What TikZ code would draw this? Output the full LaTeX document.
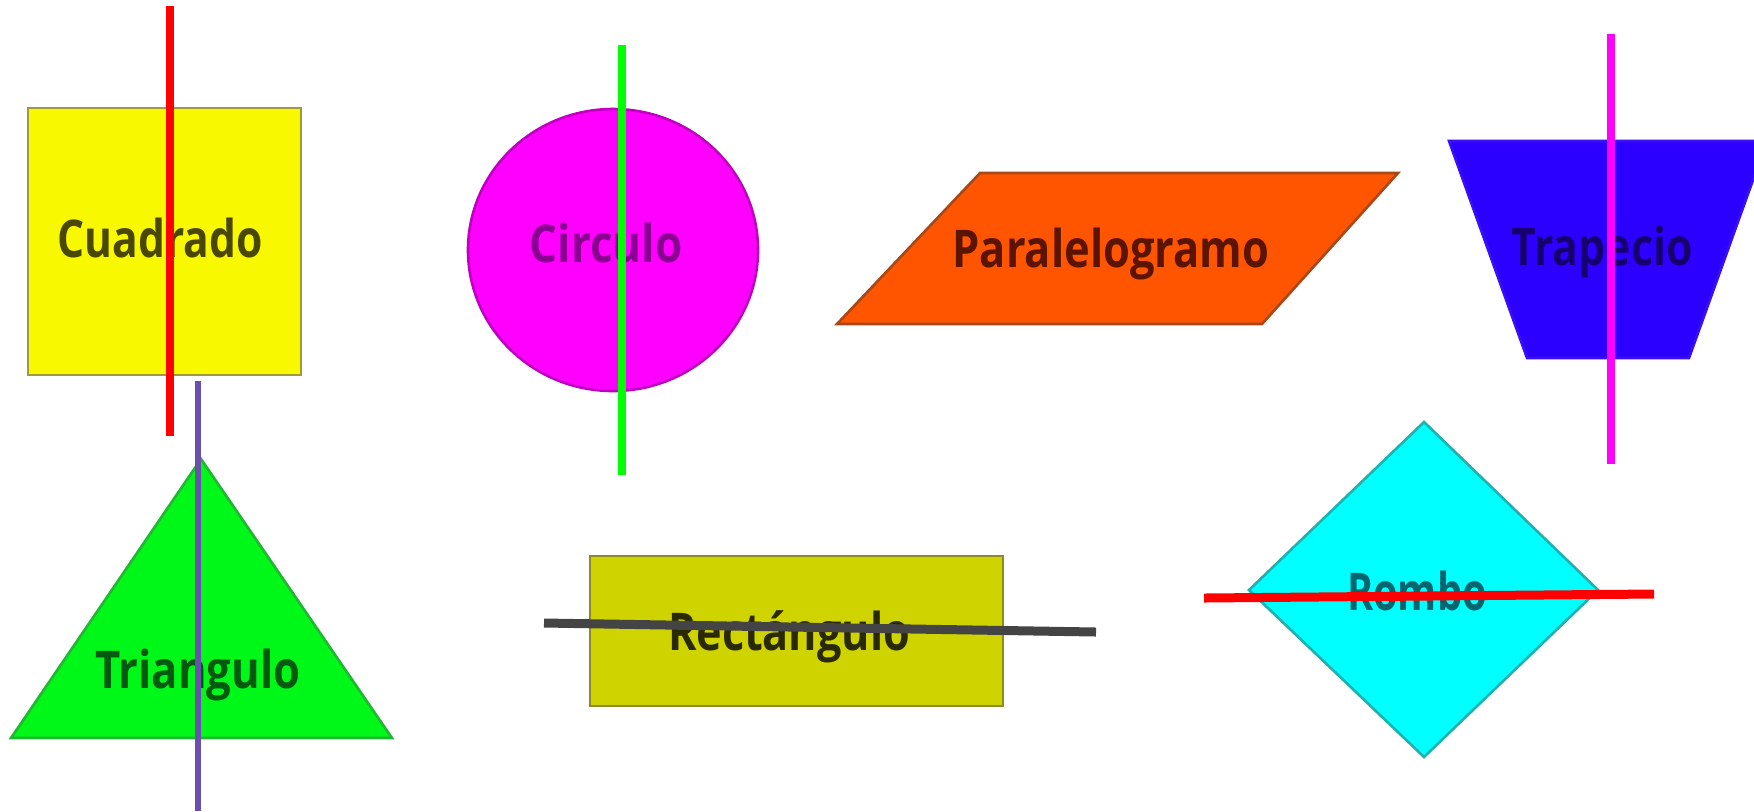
\documentclass[tikz,border=0pt]{standalone}
\usepackage{fontspec}
\setmainfont{Open Sans}
\usepackage{graphicx}
\definecolor{sqfill}{HTML}{F8F800}
\definecolor{sqedge}{HTML}{A09A3A}
\definecolor{sqtext}{HTML}{4A4800}
\definecolor{cifill}{HTML}{FF00FF}
\definecolor{ciedge}{HTML}{C000C0}
\definecolor{citext}{HTML}{8A0090}
\definecolor{pafill}{HTML}{FF5500}
\definecolor{paedge}{HTML}{A84818}
\definecolor{patext}{HTML}{5A1400}
\definecolor{trfill}{HTML}{2C00FF}
\definecolor{tredge}{HTML}{3A10F0}
\definecolor{trtext}{HTML}{160070}
\definecolor{tgfill}{HTML}{00F818}
\definecolor{tgedge}{HTML}{20B830}
\definecolor{tgtext}{HTML}{005A10}
\definecolor{refill}{HTML}{CFD300}
\definecolor{reedge}{HTML}{8E8A2A}
\definecolor{retext}{HTML}{2A2A00}
\definecolor{rofill}{HTML}{00FFFF}
\definecolor{roedge}{HTML}{20B0B0}
\definecolor{rotext}{HTML}{006670}
\definecolor{barred}{HTML}{FF0000}
\definecolor{bargreen}{HTML}{00FF00}
\definecolor{barmagenta}{HTML}{FF00FF}
\definecolor{barpurple}{HTML}{6A50AC}
\definecolor{bargray}{HTML}{444444}
\newcommand{\shapelabel}[2]{\resizebox{#1}{\height}{#2}}
\begin{document}
\begin{tikzpicture}[x=0.5pt,y=-0.5pt,
  figure/.style={line width=1.3pt, line join=miter},
  lbl/.style={font=\fontsize{26}{30}\selectfont\bfseries, inner sep=0pt, anchor=base},
  bar/.style={line width=4pt},
  thickbar/.style={line width=4.5pt}]
\useasboundingbox[fill=white] (0,0) rectangle (1754,811);

% upper row
\filldraw[figure, fill=sqfill, draw=sqedge] (28,108) rectangle (301,375);
\filldraw[figure, fill=cifill, draw=ciedge] (613,250) ellipse [x radius=72.5pt, y radius=70.5pt];
\filldraw[figure, fill=pafill, draw=paedge] (980,173) -- (1398,173) -- (1262,324) -- (837,324) -- cycle;
\filldraw[figure, fill=trfill, draw=tredge] (1449,141) -- (1767,141) -- (1689,358) -- (1527,358) -- cycle;

% lower row
\filldraw[figure, fill=tgfill, draw=tgedge] (201,459) -- (392,738) -- (11,738) -- cycle;
\filldraw[figure, fill=refill, draw=reedge] (590,556) rectangle (1003,706);
\filldraw[figure, fill=rofill, draw=roedge] (1424,422) -- (1598,590) -- (1424,757) -- (1249,590) -- cycle;

% names of the figures
\node[lbl, text=sqtext] (cuadrado) at (160,257) {\shapelabel{102.5pt}{Cuadrado}};
\node[lbl, text=citext] (circulo) at (606,262) {\shapelabel{76.5pt}{Circulo}};
\node[lbl, text=patext] (paralelogramo) at (1111,267) {\shapelabel{158.5pt}{Paralelogramo}};
\node[lbl, text=trtext] (trapecio) at (1602,265) {\shapelabel{90.5pt}{Trapecio}};
\node[lbl, text=tgtext] (triangulo) at (198,688) {\shapelabel{102.5pt}{Triangulo}};
\node[lbl, text=retext] (rectangulo) at (789,650) {\shapelabel{121pt}{Rectángulo}};
\node[lbl, text=rotext] (rombo) at (1417,610) {\shapelabel{70pt}{Rombo}};

% end points of the crossing bars
\coordinate (redtop) at (170,6);
\coordinate (redbot) at (170,436);
\coordinate (greentop) at (622,45);
\coordinate (greenbot) at (622,475);
\coordinate (magtop) at (1611,34);
\coordinate (magbot) at (1611,464);
\coordinate (purtop) at (198,381);
\coordinate (purbot) at (198,811);
\coordinate (grayleft) at (544,623);
\coordinate (grayright) at (1096,632);
\coordinate (redleft) at (1204,598);
\coordinate (redright) at (1654,594);

% bars
\draw[bar, barred] (redtop) -- (redbot);
\draw[bar, bargreen] (greentop) -- (greenbot);
\draw[bar, barmagenta] (magtop) -- (magbot);
\draw[bar, barpurple, line width=3.3pt] (purtop) -- (purbot);
\draw[thickbar, bargray] (grayleft) -- (grayright);
\draw[thickbar, barred] (redleft) -- (redright);
\end{tikzpicture}
\end{document}
